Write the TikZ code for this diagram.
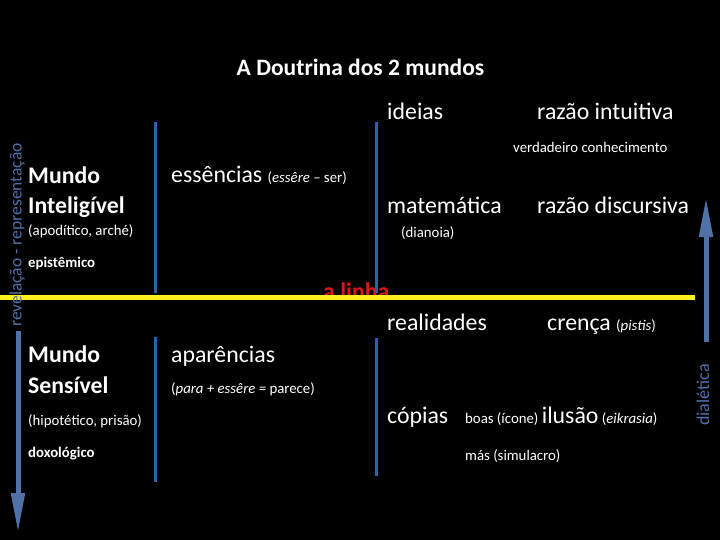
\documentclass[tikz,border=0pt]{standalone}
\usepackage{fontspec}
\setmainfont{Carlito}
\usetikzlibrary{arrows.meta}
\definecolor{linecol}{RGB}{42,98,168}
\definecolor{arrcol}{RGB}{79,113,168}
\definecolor{yel}{RGB}{255,240,30}
\definecolor{redt}{RGB}{225,20,20}
\tikzset{
  big/.style={text=white, anchor=base west, inner sep=0pt, font=\fontsize{23.8}{26}\selectfont},
  bigb/.style={text=white, anchor=base west, inner sep=0pt, font=\fontsize{23.8}{26}\selectfont\bfseries},
  small/.style={text=white, anchor=base west, inner sep=0pt, font=\fontsize{14.8}{17}\selectfont},
  smallb/.style={text=white, anchor=base west, inner sep=0pt, font=\fontsize{14.8}{17}\selectfont\bfseries},
  vline/.style={draw=linecol, line width=3pt},
  bigarrow/.style={draw=arrcol, line width=5pt, -{Triangle[length=40pt,width=13pt]}},
  sidetxt/.style={text=arrcol, inner sep=0pt, rotate=90}
}
\newcommand{\sm}{\fontsize{14.8}{17}\selectfont}
\begin{document}
\begin{tikzpicture}[x=1pt,y=-1pt]
\fill[black] (0,0) rectangle (720,540);
\useasboundingbox (0,0) rectangle (720,540);

% title
\node[text=white, anchor=base, inner sep=0pt, font=\fontsize{23.5}{26}\selectfont\bfseries] (title) at (360.5,76) {A Doutrina dos 2 mundos};

% red label under the line
\node[anchor=base west, inner sep=0pt, text=redt, font=\fontsize{23.8}{26}\selectfont\bfseries] (alinha) at (323,299) {a linha};

% left column
\node[bigb] (mundo1) at (28,184) {Mundo};
\node[bigb] (intel) at (28,214) {Inteligível};
\node[small] (apod) at (28,236) {(apodítico, arché)};
\node[smallb] (epist) at (28,267) {epistêmico};
\node[bigb] (mundo2) at (28,362) {Mundo};
\node[bigb] (sens) at (28,393) {Sensível};
\node[small] (hipo) at (28,425) {(hipotético, prisão)};
\node[smallb] (doxo) at (28,457) {doxológico};

% middle column
\node[big] (ess) at (171,183) {essências {\sm(\textit{essêre} – ser)}};
\node[big] (apar) at (171,362) {aparências};
\node[small] (para) at (171,393) {(\textit{para + essêre =} parece)};

% right part
\node[big] (ideias) at (387,120) {ideias};
\node[big] (razint) at (537,120) {razão intuitiva};
\node[small] (verd) at (513,153) {verdadeiro conhecimento};
\node[big] (mat) at (387,214) {matemática};
\node[big] (razdis) at (537,214) {razão discursiva};
\node[small] (dian) at (401,237) {(dianoia)};
\node[big] (real) at (387,330) {realidades};
\node[big] (cren) at (547,330) {crença {\sm(\textit{pistis})}};
\node[big] (cop) at (387,423) {cópias};
\node[small] (boas) at (465,423) {boas (ícone) {\fontsize{23.8}{26}\selectfont ilusão} (\textit{eikrasia})};
\node[small] (mas) at (465,460) {más (simulacro)};

% vertical blue lines
\coordinate (l1a) at (155,122); \coordinate (l1b) at (155,293);
\coordinate (l1c) at (155,337); \coordinate (l1d) at (155,482);
\coordinate (l2a) at (376,122); \coordinate (l2b) at (376,293);
\coordinate (l2c) at (376,338); \coordinate (l2d) at (376,476);
\draw[vline] (l1a) -- (l1b);
\draw[vline] (l1c) -- (l1d);
\draw[vline] (l2a) -- (l2b);
\draw[vline] (l2c) -- (l2d);

% yellow line
\coordinate (ya) at (0,297.5); \coordinate (yb) at (695,297.5);
\draw[yel, line width=5.5pt] (ya) -- (yb);

% side arrows
\coordinate (la) at (18,331); \coordinate (lb) at (18,533);
\draw[bigarrow] (la) -- (lb);
\node[sidetxt, font=\fontsize{17.5}{20}\selectfont] (revel) at (17,235) {revelação - representação};

\coordinate (ra) at (706,342); \coordinate (rb) at (706,197);
\draw[bigarrow] (ra) -- (rb);
\node[sidetxt, font=\fontsize{18}{20}\selectfont] (dial) at (703,395) {dialética};
\end{tikzpicture}
\end{document}
